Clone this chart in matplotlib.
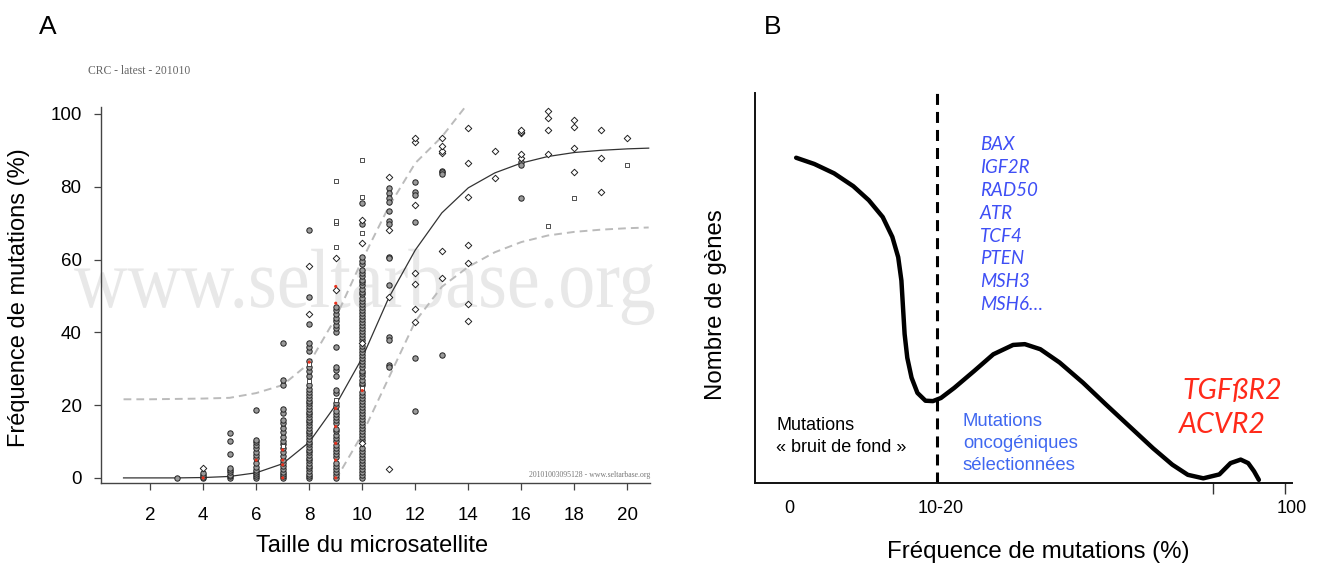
import matplotlib
matplotlib.use("Agg")
import matplotlib.pyplot as plt
from matplotlib.textpath import TextPath
from matplotlib.patches import PathPatch
from matplotlib.font_manager import FontProperties
from matplotlib.transforms import Affine2D

# ------------------------------------------------------------
# Panel A : fréquence de mutations selon la taille du microsatellite
# ------------------------------------------------------------
tailles = [3, 4, 5, 6, 7, 8, 9, 10, 11, 12, 13, 14, 15, 16, 17, 18, 19, 20]

cercles = [
    [0],
    [0, 0.3, 0.8, 1.3],
    [0, 0.4, 0.9, 1.5, 2.2, 2.7, 6.6, 10.2, 12.4],
    [0, 0.4, 1.0, 1.6, 2.3, 3.1, 4.0, 5.6, 6.3, 7.2, 8.2, 9.0, 9.8, 10.4, 18.7],
    [0, 0.5, 1.0, 1.7, 2.5, 3.3, 4.2, 5.0, 6.0, 7.0, 8.2, 9.3, 10.2, 11.3, 12.5,
     13.7, 15.0, 16.0, 17.8, 18.9, 25.5, 26.9, 37.0],
    [0, 0.6, 1.2, 1.8, 2.6, 3.3, 4.0, 4.8, 5.6, 6.3, 7.0, 7.8, 8.6, 9.3, 10.0,
     10.8, 11.6, 12.3, 13.0, 13.8, 14.6, 15.3, 16.0, 16.8, 17.5, 18.2, 19.0,
     19.7, 20.5, 21.2, 22.0, 22.8, 23.6, 24.5, 25.5, 28.0, 29.5, 30.6, 32.0,
     35.0, 36.0, 37.0, 42.3, 49.8, 68.1],
    [0, 0.8, 1.6, 2.4, 3.2, 4.0, 5.7, 6.5, 7.3, 8.1, 9.0, 10.2, 11.0, 11.9,
     12.8, 13.5, 15.0, 15.8, 16.6, 17.5, 18.3, 19.8, 20.5, 23.3, 24.2, 28.0,
     29.7, 30.6, 35.9, 40.2, 41.1, 42.0, 43.0, 43.9, 45.0, 46.0, 47.0],
    [0, 0.8, 1.6, 2.5, 3.3, 4.1, 5.0, 5.8, 6.6, 7.5, 8.3, 10.4, 11.2, 12.0,
     12.9, 13.7, 14.5, 15.4, 16.2, 17.0, 17.9, 18.7, 19.5, 20.4, 21.2, 22.0,
     22.9, 23.7, 25.4, 26.2, 27.0, 27.9, 28.7, 29.5, 30.4, 31.2, 32.0, 32.9,
     33.7, 34.5, 35.4, 36.2, 38.0, 38.7, 39.5, 40.4, 41.2, 42.0, 42.9, 43.7,
     44.5, 45.4, 46.2, 47.0, 47.9, 48.7, 49.5, 50.4, 51.2, 52.0, 52.9, 53.7,
     54.5, 55.4, 56.2, 57.0, 58.7, 59.5, 60.8, 69.8, 75.5],
    [79.6, 78.2, 76.8, 75.9, 73.2, 70.7, 69.8, 60.8, 60.4, 53.0, 38.8, 37.9,
     31.0, 30.6],
    [81.2, 78.5, 77.7, 70.2, 33.0, 18.4],
    [84.3, 84.0, 83.4, 33.8],
    [], [],
    [86.9, 86.0, 76.8],
    [], [], [], [],
]

losanges = [
    [], [2.8], [], [], [],
    [45.0, 58.2],
    [51.6, 60.4],
    [9.6, 37.0, 64.6, 70.9],
    [2.4, 49.8, 68.1, 82.8],
    [42.7, 46.4, 53.3, 56.2, 75.0, 92.4, 93.5],
    [54.9, 62.4, 89.2, 89.8, 91.2, 93.3],
    [43.1, 47.7, 59.0, 64.0, 77.3, 86.5, 96.0],
    [82.5, 89.7],
    [87.8, 88.9, 94.7, 95.1, 95.6],
    [88.9, 95.6, 98.8, 100.9],
    [84.0, 90.6, 96.5, 98.3],
    [78.5, 88.0, 95.6],
    [93.3],
]

carres = [
    [], [], [], [], [8.8],
    [26.5, 31.3],
    [21.4, 63.5, 70.1, 70.7, 81.7],
    [24.8, 67.2, 77.3, 87.4],
    [], [], [], [], [], [],
    [69.2], [76.8], [], [86.0],
]

rouges = [
    [], [0], [], [4.9], [0, 3.6, 4.9, 7.7], [31.8],
    [0, 4.9, 9.5, 14.1, 19.1, 48.0, 52.6], [24.0],
    [], [], [], [], [], [], [], [], [], [],
]

# courbe moyenne et bornes (lignes pointillées)
moy_x = [1, 2, 3, 4, 5, 6, 7, 8, 9, 10, 11, 12, 13, 14, 15, 16, 17, 18, 19, 20, 20.8]
moy_y = [0, 0, 0, 0.1, 0.4, 1.4, 3.9, 9.8, 20.0, 33.0, 49.5, 62.6, 72.8, 79.7,
         83.8, 86.5, 88.3, 89.4, 90.0, 90.4, 90.6]
haut_x = [1, 2, 3, 4, 5, 6, 7, 8, 9, 10, 11, 12, 13, 14]
haut_y = [21.6, 21.6, 21.7, 21.8, 22.0, 23.3, 25.5, 31.5, 44.0, 59.9, 74.5, 86.5, 93.7, 103.0]
bas_x = [9, 10, 11, 12, 13, 14, 15, 16, 17, 18, 19, 20, 20.8]
bas_y = [-0.5, 12.0, 27.5, 43.0, 52.5, 58.0, 62.0, 64.8, 66.6, 67.6, 68.2, 68.6, 68.8]

# ------------------------------------------------------------
# Panel B : schéma du nombre de gènes selon la fréquence
# ------------------------------------------------------------
schema_x = [7.7, 11.1, 14.8, 18.4, 21.3, 23.9, 25.7, 26.8, 27.4, 27.7, 28.0,
            28.5, 29.3, 30.4, 31.9, 33.3, 34.8, 37.3, 41.0, 44.6, 48.3, 50.5,
            53.4, 57.0, 61.4, 65.7, 70.1, 74.5, 78.1, 81.0, 83.9, 86.9, 89.0,
            90.9, 92.3, 93.4, 94.3]
schema_y = [83.4, 81.8, 79.4, 76.1, 72.5, 68.2, 63.1, 57.9, 51.9, 45.0, 38.2,
            32.1, 27.0, 23.1, 21.1, 21.0, 21.8, 24.4, 28.7, 33.0, 35.4, 35.6,
            34.3, 30.9, 25.7, 20.1, 14.5, 8.9, 4.7, 2.1, 1.2, 2.2, 5.1, 6.0,
            5.1, 3.0, 0.8]
seuil = 34.1
genes = ["BAX", "IGF2R", "RAD50", "ATR", "TCF4", "PTEN", "MSH3", "MSH6…"]

# ------------------------------------------------------------
W, H = 1320, 563
plt.rcParams['font.family'] = ['Liberation Sans', 'DejaVu Sans']
fig = plt.figure(figsize=(W / 100, H / 100), dpi=100)


def box(x0, y0, x1, y1):
    return [x0 / W, 1 - y1 / H, (x1 - x0) / W, (y1 - y0) / H]


def ftext(px, py, s, **kw):
    return fig.text(px / W, 1 - py / H, s, **kw)


# ---------------- Panel A ----------------
axA = fig.add_axes(box(101, 107, 650, 483))
axA.set_xlim(0.15, 20.85)
axA.set_ylim(-1.4, 101.9)
for sp in ["top", "right"]:
    axA.spines[sp].set_visible(False)
for sp in ["left", "bottom"]:
    axA.spines[sp].set_color("#444444")
    axA.spines[sp].set_linewidth(1)
axA.set_xticks(range(2, 21, 2))
axA.set_yticks(range(0, 101, 20))
axA.tick_params(length=5, width=0.9, color="#444444", labelsize=13.5)
axA.tick_params(axis="x", pad=12)
axA.tick_params(axis="y", pad=9)

# filigrane
tp = TextPath((0, 0), "www.seltarbase.org", size=1,
              prop=FontProperties(family="Liberation Serif"))
tr = Affine2D().scale(74 / W, 84 / H).translate(74 / W, 1 - 307 / H) + fig.transFigure
axA.add_artist(PathPatch(tp, facecolor="#e8e8e8", edgecolor="none",
                         transform=tr, zorder=0.5, clip_on=False))

axA.plot(haut_x, haut_y, color="#bbbbbb", lw=1.4, dashes=(4, 2.6), zorder=2)
axA.plot(bas_x, bas_y, color="#bbbbbb", lw=1.4, dashes=(4, 2.6), zorder=2)
axA.plot(moy_x, moy_y, color="#333333", lw=0.9, zorder=3)

for x, ys in zip(tailles, cercles):
    axA.scatter([x] * len(ys), ys, s=15, facecolor="#9a9a9a", edgecolor="#222222",
                linewidth=0.7, zorder=4)
for x, ys in zip(tailles, carres):
    axA.scatter([x] * len(ys), ys, s=12, marker="s", facecolor="white",
                edgecolor="#333333", linewidth=0.6, zorder=4)
for x, ys in zip(tailles, losanges):
    axA.scatter([x] * len(ys), ys, s=11, marker="D", facecolor="white",
                edgecolor="#222222", linewidth=0.7, zorder=4)
for x, ys in zip(tailles, rouges):
    axA.scatter([x] * len(ys), ys, s=5, facecolor="#e8321e", edgecolor="none", zorder=5)

ftext(88, 71, "CRC - latest - 201010", family="Liberation Serif", fontsize=8.4,
      color="#666666", va="center")
ftext(650, 475, "20101003095128 - www.seltarbase.org", family="Liberation Serif",
      fontsize=5.6, color="#777777", ha="right", va="center")
ftext(19, 298, "Fréquence de mutations (%)", fontsize=17, rotation=90,
      ha="center", va="center")
ftext(372, 546, "Taille du microsatellite", fontsize=17, ha="center", va="center")
ftext(48, 27, "A", fontsize=19, ha="center", va="center")

# ---------------- Panel B ----------------
axB = fig.add_axes(box(755, 93, 1292, 483))
axB.set_xlim(0, 100)
axB.set_ylim(0, 100)
for sp in ["top", "right"]:
    axB.spines[sp].set_visible(False)
for sp in ["left", "bottom"]:
    axB.spines[sp].set_color("#111111")
    axB.spines[sp].set_linewidth(1.4)
axB.set_yticks([])
axB.set_xticks([6.4, 34.8, 100.5])
axB.set_xticklabels(["0", "10-20", "100"])
axB.set_xticks([85.8, 99.2], minor=True)
axB.tick_params(axis="x", which="major", length=0, pad=12, labelsize=13)
axB.tick_params(axis="x", which="minor", length=8, width=1, color="#333333")

axB.plot(schema_x, schema_y, color="black", lw=3.2, solid_capstyle="round",
         solid_joinstyle="round", clip_on=False, zorder=3)
axB.axvline(seuil, color="black", lw=2.2, dashes=(3.6, 2.3), zorder=2)

for i, g in enumerate(genes):
    ftext(980, 145 + i * 22.8, g, family="Lato", style="italic", fontsize=13.5,
          color="#3f4ff5", va="center")
ftext(1182, 391, "TGFßR2", family="Lato", style="italic", fontsize=20.5,
      color="#ff2a1a", va="center")
ftext(1179, 425, "ACVR2", family="Lato", style="italic", fontsize=20.5,
      color="#ff2a1a", va="center")

ftext(776, 425, "Mutations", fontsize=13, va="center")
ftext(776, 448, "« bruit de fond »", fontsize=13, va="center")
for i, t in enumerate(["Mutations", "oncogéniques", "sélectionnées"]):
    ftext(963, 421 + i * 22, t, fontsize=13.3, color="#4068f0", va="center")

ftext(716, 305, "Nombre de gènes", fontsize=17.3, rotation=90, ha="center", va="center")
ftext(1038, 552, "Fréquence de mutations (%)", fontsize=17.3, ha="center", va="center")
ftext(773, 27, "B", fontsize=19, ha="center", va="center")

fig.savefig("out.png", dpi=100)
